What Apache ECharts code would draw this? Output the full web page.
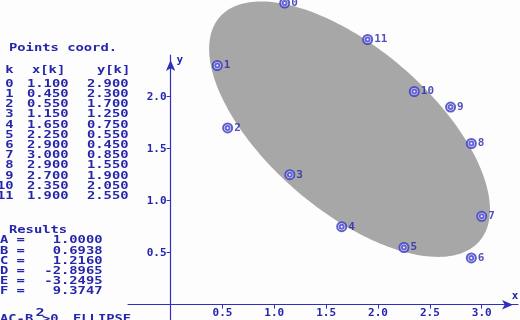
<!DOCTYPE html>
<html><head><meta charset="utf-8">
<script src="https://cdn.jsdelivr.net/npm/echarts@6/dist/echarts.min.js"></script>
<style>html,body{margin:0;padding:0;background:#fdfdfd}#c{width:520px;height:320px}</style>
</head><body><div id="c"></div>
<script>
const pointLabels = ['0','1','2','3','4','5','6','7','8','9','10','11'];
const ptX = [1.100,0.450,0.550,1.150,1.650,2.250,2.900,3.000,2.900,2.700,2.350,1.900];
const ptY = [2.900,2.300,1.700,1.250,0.750,0.550,0.450,0.850,1.550,1.900,2.050,2.550];
const coefNames = ['A','B','C','D','E','F'];
const coefValues = [1.0000,0.6938,1.2160,-2.8965,-3.2495,9.3747];
const xTicks = [0.5,1.0,1.5,2.0,2.5,3.0];
const yTicks = [0.5,1.0,1.5,2.0];

const BLUE = '#2626aa';
const AXIS = '#2f2fc0';
const MONO = '"DejaVu Sans Mono", monospace';

function T(x, y, text, align, size, sx) {
  return {
    type: 'text', x: x, y: y, scaleX: sx || 1.38, scaleY: 1, silent: true,
    style: { text: text, fill: BLUE, font: 'bold ' + (size || 10) + 'px ' + MONO,
             align: align || 'left', verticalAlign: 'middle' }
  };
}

const graphics = [];
graphics.push(T(9, 48, 'Points coord.'));
graphics.push(T(13.5, 70, 'k', 'right'));
graphics.push(T(32, 70, 'x[k]'));
graphics.push(T(97, 70, 'y[k]'));
for (let i = 0; i < ptX.length; i++) {
  const y = 84.3 + i * 10.2;
  graphics.push(T(13.5, y, pointLabels[i], 'right'));
  graphics.push(T(27, y, ptX[i].toFixed(3)));
  graphics.push(T(87, y, ptY[i].toFixed(3)));
}
graphics.push(T(9, 230.7, 'Results'));
for (let i = 0; i < coefNames.length; i++) {
  const y = 240.8 + i * 10.2;
  graphics.push(T(0, y, coefNames[i]));
  graphics.push(T(16.5, y, '='));
  graphics.push(T(102.5, y, coefValues[i].toFixed(4), 'right'));
}
graphics.push(T(0, 319, 'AC-B'));
graphics.push(T(35.5, 313, '2', 'left', 11));
graphics.push(T(42, 319, '>0'));
graphics.push(T(73, 319, 'ELLIPSE'));

function ellipsePoints() {
  const [A, B, C, D, E, F] = coefValues;
  const det = A * C - B * B;
  const x0 = (B * E - C * D) / det;
  const y0 = (B * D - A * E) / det;
  const k = -(D * x0 + E * y0 + F);
  const m = (A + C) / 2, r = Math.sqrt(((A - C) / 2) ** 2 + B * B);
  const l1 = m + r, l2 = m - r;
  const th = 0.5 * Math.atan2(2 * B, A - C);
  const a1 = Math.sqrt(k / l1), a2 = Math.sqrt(k / l2);
  const c = Math.cos(th), s = Math.sin(th);
  const pts = [];
  for (let i = 0; i < 240; i++) {
    const t = i / 240 * Math.PI * 2;
    const u = a1 * Math.cos(t), v = a2 * Math.sin(t);
    pts.push([x0 + u * c - v * s, y0 + u * s + v * c]);
  }
  return pts;
}
const ellPts = ellipsePoints();

const XMIN = -0.4108, XMAX = 3.350, YMIN = -0.147, YMAX = 2.401;
const GL = 128, GR = 2, GT = 55, GB = 0;
const gw = 520 - GL - GR, gh = 320 - GT - GB;
const yAxisOffset = -(0 - XMIN) / (XMAX - XMIN) * gw;   // move y axis line to x = 0
const xAxisOffset = -(0 - YMIN) / (YMAX - YMIN) * gh;   // move x axis line to y = 0

const chart = echarts.init(document.getElementById('c'), null, { renderer: 'canvas' });
chart.setOption({
  backgroundColor: '#fdfdfd',
  animation: false,
  grid: { left: GL, right: GR, top: GT, bottom: GB, containLabel: false, outerBoundsMode: 'none' },
  xAxis: {
    type: 'value', min: XMIN, max: XMAX, position: 'bottom', offset: xAxisOffset,
    splitLine: { show: false },
    axisLine: { onZero: false, lineStyle: { color: AXIS, width: 1.2 },
      symbol: ['none', 'arrow'], symbolSize: [7, 11], symbolOffset: [0, -5] },
    axisTick: { customValues: xTicks, length: 4, lineStyle: { color: AXIS } },
    axisLabel: { customValues: xTicks, formatter: v => v.toFixed(1), margin: 3,
      color: BLUE, fontFamily: MONO, fontWeight: 'bold', fontSize: 11 },
    name: 'x', nameLocation: 'end', nameGap: -3,
    nameTextStyle: { color: BLUE, fontFamily: MONO, fontWeight: 'bold', fontSize: 11,
      align: 'center', verticalAlign: 'bottom', padding: [0, 0, 3, 0] }
  },
  yAxis: {
    type: 'value', min: YMIN, max: YMAX, position: 'left', offset: yAxisOffset,
    splitLine: { show: false },
    axisLine: { onZero: false, lineStyle: { color: AXIS, width: 1.2 },
      symbol: ['none', 'arrow'], symbolSize: [7, 11], symbolOffset: [0, -5] },
    axisTick: { customValues: yTicks, length: 4, lineStyle: { color: AXIS } },
    axisLabel: { customValues: yTicks, formatter: v => v.toFixed(1), margin: 4,
      color: BLUE, fontFamily: MONO, fontWeight: 'bold', fontSize: 11 },
    name: 'y', nameLocation: 'end', nameGap: -5,
    nameTextStyle: { color: BLUE, fontFamily: MONO, fontWeight: 'bold', fontSize: 11,
      align: 'left', verticalAlign: 'middle', padding: [0, 0, 0, 6] }
  },
  graphic: graphics,
  series: [
    {
      type: 'custom', z: 1, clip: false, silent: true,
      data: [0],
      renderItem: function (params, api) {
        return {
          type: 'polygon',
          shape: { points: ellPts.map(p => api.coord(p)) },
          style: { fill: '#a7a7a7', stroke: null }
        };
      }
    },
    {
      type: 'scatter', z: 3, clip: false, silent: true,
      symbol: 'emptyCircle', symbolSize: 9,
      itemStyle: { color: '#3535c4', borderWidth: 1.4, borderColor: '#3535c4' },
      data: ptX.map((x, i) => [x, ptY[i]]),
      label: { show: true, position: 'right', distance: 1, formatter: p => pointLabels[p.dataIndex],
        color: BLUE, fontFamily: MONO, fontWeight: 'bold', fontSize: 11 }
    },
    {
      type: 'scatter', z: 4, clip: false, silent: true,
      symbol: 'emptyCircle', symbolSize: 4,
      itemStyle: { color: '#4040c8', borderWidth: 1.2, borderColor: '#4040c8' },
      data: ptX.map((x, i) => [x, ptY[i]])
    }
  ]
});
</script>
</body></html>
